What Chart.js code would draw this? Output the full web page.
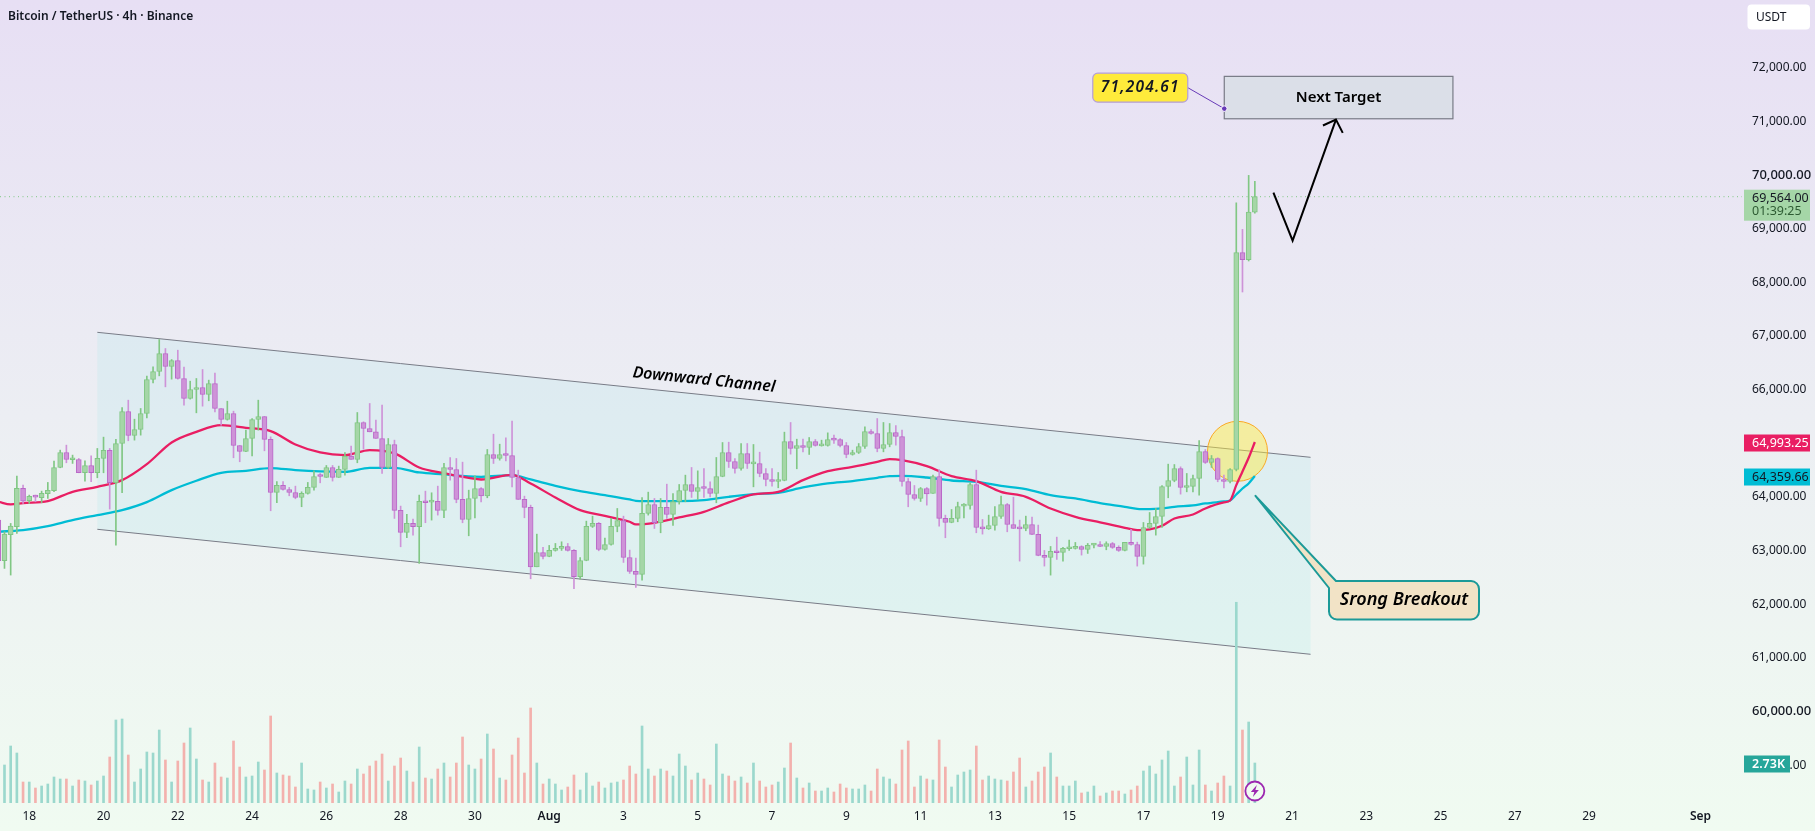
<!DOCTYPE html>
<html>
<head>
<meta charset="utf-8">
<title>Bitcoin / TetherUS</title>
<script src="https://cdn.jsdelivr.net/npm/chart.js@4"></script>
<style>
  html, body { margin: 0; padding: 0; overflow: hidden; }
  body { width: 1815px; height: 831px; background: linear-gradient(180deg, #e7dff4 0%, #eceef3 50%, #f0fbf1 100%); }
  canvas { display: block; }
</style>
</head>
<body>
<canvas id="btcChart" width="1815" height="831"></canvas>
<script>
// 4h candles, index 0 = first (cut off) bar on the left
const opens = [63538,62781,63265,63414,64128,63898,63985,63954,64029,64085,
  64519,64798,64662,64668,64420,64556,64420,64687,64836,64234,
  64966,65562,65115,65227,65525,66158,66307,66642,66400,66512,
  66177,65804,65972,66009,65879,66083,65618,65413,65525,64929,
  64817,65059,65413,65469,65041,64053,64184,64109,64053,63960,
  64035,64147,64364,64333,64519,64333,64482,64730,64668,65357,
  65245,65183,65059,64519,64947,63718,63309,63476,63414,63886,
  63873,63886,63718,64519,64481,63923,63550,63941,64127,63991,
  64761,64686,64761,64742,64332,63923,63774,62668,62935,62861,
  62973,63010,63047,62973,62482,62786,63420,63476,62991,63084,
  63420,63531,62842,62582,62526,63662,63829,63488,63774,63643,
  63885,64090,64202,64072,64146,64127,64034,64351,64798,64630,
  64500,64779,64587,64593,64407,64295,64258,64276,65003,64872,
  64928,64891,65003,64922,64928,65040,65040,64928,64761,64798,
  64910,65189,65152,64872,64947,65170,65096,64258,64016,63941,
  64127,64034,64351,63569,63494,63569,63798,63811,64202,63401,
  63376,63438,63606,63829,63457,63389,63382,63457,63271,62880,
  62842,62954,62935,63004,63010,63047,62991,63072,63084,63047,
  63103,63029,62973,63122,63084,62861,63401,63476,63606,64165,
  64276,64500,64146,64165,64314,64816,64612,64686,64295,64258,
  64481,68521,68390,69278];
const highs = [63600,63321,63476,64358,64190,64004,64004,64078,64240,64637,
  64842,64935,64749,64687,64643,64736,64873,65084,64873,65041,
  65637,65773,65419,65618,66220,66394,66903,66735,66530,66704,
  66388,66127,66177,66344,66146,66276,65618,65754,65568,64929,
  65214,65432,65773,65469,65090,64258,64258,64147,64171,64066,
  64240,64457,64407,64556,64556,64544,64798,64916,65543,65370,
  65711,65401,65680,65059,65028,63799,63644,63557,64004,64078,
  64047,64171,64594,64705,64686,64618,64096,64363,64146,64854,
  65139,64953,65071,65381,64469,63985,63817,63277,63029,63066,
  63103,63134,63103,62991,62842,63519,63612,63494,63202,63569,
  63755,63612,62979,62830,63960,64059,63941,63941,64208,64034,
  64202,64376,64519,64456,64500,64252,64705,64984,64990,64686,
  64965,64965,64947,64804,64500,64500,64425,65177,65357,65046,
  65046,65077,65040,65028,65164,65121,65059,64984,64841,64965,
  65276,65226,65431,65357,65338,65301,65214,64314,64183,64146,
  64146,64376,64481,63631,63736,63873,63848,64233,64469,63550,
  63631,63792,63985,63848,63966,63538,63612,63594,63445,62973,
  63047,63221,63029,63165,63122,63060,63103,63103,63140,63134,
  63122,63060,63122,63364,63128,63494,63680,63755,64183,64581,
  64574,64531,64407,64376,65021,64854,64742,64699,64376,64500,
  69452,68955,69961,69849];
const lows = [62762,62638,62514,63290,63849,63849,63880,63861,63942,64066,
  64513,64606,64594,64420,64265,64252,64327,64420,63743,63073,
  64047,65016,65028,65121,65444,66096,66226,66021,66164,66164,
  65680,65792,65537,65661,65761,65556,65307,65401,64699,64625,
  64811,64736,65214,64829,63712,63861,64097,63991,63935,63787,
  64022,64097,64233,64333,64265,64333,64376,64668,64606,64860,
  65183,65059,64407,64500,63569,63041,63209,63259,62731,63489,
  63538,63631,63582,64283,63861,63488,63246,63581,63879,63954,
  64593,64655,64643,64158,63923,63581,62445,62668,62817,62855,
  62960,62973,62960,62259,62439,62780,63401,62966,62979,63072,
  63320,62749,62544,62284,62420,63631,63382,63302,63569,63438,
  63836,63879,63960,63923,63960,63972,63861,64345,64519,64413,
  64469,64500,64158,64345,64177,64171,64140,64270,64767,64494,
  64810,64761,64916,64916,64916,64965,64903,64699,64748,64779,
  64872,65139,64810,64810,64903,64934,64171,63786,63910,63885,
  63817,64034,63426,63209,63488,63507,63581,63743,63302,63277,
  63364,63351,63569,63320,63382,62774,63339,63265,62873,62681,
  62513,62805,62774,62973,62998,62886,62917,63022,63041,62985,
  63010,62954,62966,63072,62681,62718,63382,63258,63401,63954,
  64252,64022,64065,64065,64003,64593,64519,64252,64140,64233,
  64456,67788,68366,69259];
const closes = [62781,63277,63426,64128,63892,63979,63967,64035,64091,64519,
  64798,64668,64674,64420,64556,64420,64687,64836,64234,64966,
  65562,65115,65227,65525,66158,66307,66642,66400,66512,66177,
  65804,65972,66009,65879,66083,65618,65413,65525,64929,64817,
  65059,65413,65469,65041,64053,64184,64109,64053,63960,64035,
  64147,64351,64351,64519,64333,64482,64730,64668,65357,65245,
  65183,65059,64519,64947,63718,63309,63476,63414,63886,63861,
  63886,63718,64519,64481,63923,63550,63941,64127,63991,64761,
  64686,64761,64742,64332,63923,63774,62668,62935,62861,62973,
  63010,63047,62973,62482,62786,63420,63476,62991,63084,63420,
  63531,62842,62582,62526,63662,63829,63488,63774,63643,63885,
  64090,64202,64072,64146,64127,64034,64351,64798,64630,64500,
  64779,64593,64599,64407,64295,64258,64276,65003,64872,64928,
  64891,65003,64928,64934,65040,65028,64928,64761,64798,64910,
  65189,65152,64872,64947,65170,65096,64258,64016,63941,64127,
  64028,64351,63569,63494,63569,63792,63817,64202,63401,63376,
  63438,63606,63829,63457,63382,63376,63457,63271,62880,62842,
  62954,62929,63010,63016,63047,62991,63066,63084,63047,63103,
  63029,62973,63122,63084,62861,63401,63476,63606,64165,64276,
  64500,64146,64165,64314,64816,64612,64686,64295,64258,64481,
  68521,68390,69278,69564];
const volumes = [1500,2594,3890,3413,1433,1433,1024,1160,1297,1775,
  1638,1638,1160,1570,1502,1229,1502,1843,3140,5665,
  5733,3276,1433,2321,3481,3413,4982,2935,1433,2867,
  4095,5119,3003,1570,1433,2730,1775,1706,4232,2457,
  1775,1843,2798,2252,5938,2048,1911,1843,1092,2730,
  956,887,1433,1024,1297,751,1502,1297,2321,1979,
  2525,2867,3344,1502,2525,3071,2184,1433,3822,1706,
  1638,2321,2730,1775,2730,4505,2594,2321,3003,4709,
  3686,1706,1570,3276,4436,2048,6484,2730,1297,1638,
  1297,887,1092,1911,887,2048,1160,1433,1024,1365,
  1433,1570,2525,1979,5255,2321,1843,2321,2184,1843,
  3344,2525,1570,2048,1638,1229,4027,1979,1843,1502,
  1775,1365,2730,1502,1092,1229,1433,2389,4095,1706,
  1024,1365,819,819,1024,751,1297,1024,956,956,
  1229,819,2321,1775,1638,1297,3617,4232,1092,1843,
  1638,1570,4300,2457,1092,1911,2116,2252,3890,1570,
  1843,1638,1570,1502,2116,3071,1092,1502,2116,2457,
  3413,1775,1160,1160,1502,683,751,1160,478,683,
  819,819,614,887,1160,2184,2525,1979,2935,3549,
  1160,1775,3140,1229,3617,1229,819,1365,1843,1160,
  13700,4982,5528,2730];

const maBars = [0,2,4,8,12,16,20,24,28,32,36,40,44,48,52,56,60,64,68,72,
  76,78,83,86,90,94,98,102,103,106,110,114,118,122,126,130,134,138,142,
  144,146,150,154,158,162,166,170,174,178,182,184,186,188,190,193,195,198,199,200,201,202,203];
const maFast = [63880,63830,63855,63892,64066,64159,64283,64581,64985,65183,65307,65258,65196,64947,64798,64749,64842,64780,64519,64413,
  64326,64295,64382,64220,63960,63724,63618,63507,63457,63488,63587,63693,63867,64016,64065,64283,64450,64531,64624,
  64674,64655,64543,64357,64264,64065,63972,63755,63600,63494,63395,63351,63364,63432,63569,63643,63755,63867,63904,64189,64444,64699,64993.25];
const maSlow = [63321,63335,63352,63426,63538,63631,63724,63873,64097,64271,64420,64457,64507,64469,64445,64438,64513,64513,64426,64389,
  64351,64345,64376,64295,64177,64078,64003,63923,63898,63892,63892,63910,63972,64022,64047,64146,64221,64264,64326,
  64357,64363,64332,64276,64252,64177,64115,64003,63941,63854,63786,63749,63742,63755,63786,63811,63848,63885,63904,64016,64127,64221,64359.66];

const dateBars = [5,17,29,41,53,65,77,89,101,113,125,137,149,161,173,185,197,209,221,233,245,257,275];
const dateLabels = ["18","20","22","24","26","28","30","Aug","3","5","7","9","11","13","15","17","19","21","23","25","27","29","Sep"];
const priceTicks = [59000,60000,61000,62000,63000,64000,65000,66000,67000,68000,69000,70000,71000,72000];

const lastPrice = 69564, lastCountdown = "01:39:25", lastVolumeText = "2.73K";

// drawings, anchored in [bar, price]
const channelTop = [[16, 67037], [212, 64708]];
const channelBottom = [[16, 63367], [212, 61038]];
const channelCaption = [114, 66148];
const targetBox = [[198.06, 71806], [235, 71016]];
const targetLabelAnchor = [198.06, 71204.61];
const vShape = [[206, 69640], [209.1, 68745], [216.1, 71000]];
const arrowBarbs = [[214, 70890], [217.2, 70753]];
const breakoutTip = [203.1, 63990];
const breakoutHighlight = [200.2, 64820];

const GREEN_BODY = "#a5d6a7", GREEN_EDGE = "#81c784";
const PURPLE_BODY = "#ce93d8", PURPLE_EDGE = "#ba68c8";
const UI_FONT = '"Noto Sans", sans-serif';
const TEXT = "#131722";

const isUp = i => closes[i] >= opens[i];

function moneyText(v) {
  return v.toLocaleString("en-US", { minimumFractionDigits: 2, maximumFractionDigits: 2 });
}

function roundRect(ctx, x, y, w, h, r) {
  ctx.beginPath();
  ctx.roundRect(x, y, w, h, r);
}

function strokeLine(ctx, pts, color, width) {
  ctx.beginPath();
  pts.forEach((p, k) => k ? ctx.lineTo(p[0], p[1]) : ctx.moveTo(p[0], p[1]));
  ctx.strokeStyle = color;
  ctx.lineWidth = width;
  ctx.stroke();
}

const drawingsPlugin = {
  id: "drawings",
  beforeDatasetsDraw(chart) {
    const { ctx, scales: { x, y } } = chart;
    const pt = a => [x.getPixelForValue(a[0]), y.getPixelForValue(a[1])];
    const t0 = pt(channelTop[0]), t1 = pt(channelTop[1]);
    const b0 = pt(channelBottom[0]), b1 = pt(channelBottom[1]);

    ctx.save();
    ctx.beginPath();
    ctx.moveTo(t0[0], t0[1]);
    ctx.lineTo(t1[0], t1[1]);
    ctx.lineTo(b1[0], b1[1]);
    ctx.lineTo(b0[0], b0[1]);
    ctx.closePath();
    ctx.fillStyle = "rgba(100, 225, 225, 0.1)";
    ctx.fill();
    strokeLine(ctx, [t0, t1], "#787b86", 1);
    strokeLine(ctx, [b0, b1], "#787b86", 1);

    // highlight circle
    const c = pt(breakoutHighlight);
    ctx.beginPath();
    ctx.arc(c[0], c[1], 30, 0, Math.PI * 2);
    ctx.fillStyle = "rgba(255, 235, 59, 0.45)";
    ctx.fill();
    ctx.strokeStyle = "#f9a825";
    ctx.lineWidth = 1;
    ctx.stroke();

    // last price line
    const ly = y.getPixelForValue(lastPrice);
    ctx.setLineDash([1, 3.5]);
    strokeLine(ctx, [[0, ly], [chart.chartArea.right, ly]], GREEN_EDGE, 1);
    ctx.restore();
  },
  afterDatasetsDraw(chart) {
    const { ctx, scales: { x, y } } = chart;
    const pt = a => [x.getPixelForValue(a[0]), y.getPixelForValue(a[1])];
    ctx.save();

    // channel caption
    const t0 = pt(channelTop[0]), t1 = pt(channelTop[1]);
    const cap = pt(channelCaption);
    ctx.save();
    ctx.translate(cap[0], cap[1]);
    ctx.rotate(Math.atan2(t1[1] - t0[1], t1[0] - t0[0]));
    ctx.font = 'italic 600 16px ' + UI_FONT;
    ctx.fillStyle = "#000";
    ctx.textAlign = "center";
    ctx.textBaseline = "middle";
    ctx.fillText("Downward Channel", 0, 0);
    ctx.restore();

    // target box
    const a = pt(targetBox[0]), b = pt(targetBox[1]);
    ctx.fillStyle = "#dbdfe8";
    ctx.fillRect(a[0], a[1], b[0] - a[0], b[1] - a[1]);
    ctx.strokeStyle = "#787b86";
    ctx.lineWidth = 1.2;
    ctx.strokeRect(a[0], a[1], b[0] - a[0], b[1] - a[1]);
    ctx.font = '600 15px ' + UI_FONT;
    ctx.fillStyle = "#000";
    ctx.textAlign = "center";
    ctx.textBaseline = "middle";
    ctx.fillText("Next Target", (a[0] + b[0]) / 2, (a[1] + b[1]) / 2);

    // price label with its leader
    const dot = pt(targetLabelAnchor);
    const lw = 95, lh = 29, lx = dot[0] - 131.5, ly = dot[1] - 35.5;
    strokeLine(ctx, [[lx + lw, ly + lh / 2], dot], "#673ab7", 1);
    ctx.beginPath();
    ctx.arc(dot[0], dot[1], 2.8, 0, Math.PI * 2);
    ctx.fillStyle = "#673ab7";
    ctx.fill();
    ctx.strokeStyle = "#fff";
    ctx.lineWidth = 1;
    ctx.stroke();
    roundRect(ctx, lx, ly, lw, lh, 5);
    ctx.fillStyle = "#ffeb3b";
    ctx.fill();
    ctx.strokeStyle = "#b39ddb";
    ctx.lineWidth = 1.2;
    ctx.stroke();
    ctx.font = 'italic 600 15.5px ' + UI_FONT;
    ctx.letterSpacing = "1.2px";
    ctx.fillStyle = "#131722";
    ctx.fillText("71,204.61", lx + lw / 2, ly + lh / 2);
    ctx.letterSpacing = "0px";

    // projected path
    ctx.lineJoin = "miter";
    strokeLine(ctx, vShape.map(pt), "#000", 2);
    strokeLine(ctx, [pt(arrowBarbs[0]), pt(vShape[2]), pt(arrowBarbs[1])], "#000", 2);

    // callout
    const tip = pt(breakoutTip);
    const bx = 1329, by = 581, bw = 150, bh = 38.5, r = 8;
    ctx.beginPath();
    ctx.moveTo(tip[0], tip[1]);
    ctx.lineTo(bx + 7, by);
    ctx.lineTo(bx + bw - r, by);
    ctx.arcTo(bx + bw, by, bx + bw, by + r, r);
    ctx.lineTo(bx + bw, by + bh - r);
    ctx.arcTo(bx + bw, by + bh, bx + bw - r, by + bh, r);
    ctx.lineTo(bx + r, by + bh);
    ctx.arcTo(bx, by + bh, bx, by + bh - r, r);
    ctx.lineTo(bx, by + 7);
    ctx.closePath();
    ctx.fillStyle = "#f2e3c6";
    ctx.fill();
    ctx.strokeStyle = "#1c9a98";
    ctx.lineWidth = 2;
    ctx.lineJoin = "round";
    ctx.stroke();
    ctx.font = 'italic 600 18px ' + UI_FONT;
    ctx.fillStyle = "#000";
    ctx.fillText("Srong Breakout", bx + bw / 2, by + bh / 2 - 0.5);

    // bolt badge on the last bar
    const ix = x.getPixelForValue(203), iy = 791;
    ctx.beginPath();
    ctx.arc(ix, iy, 9.5, 0, Math.PI * 2);
    ctx.fillStyle = "#f0faf1";
    ctx.fill();
    ctx.strokeStyle = "#9c27b0";
    ctx.lineWidth = 1.8;
    ctx.stroke();
    ctx.beginPath();
    ctx.moveTo(ix + 2, iy - 6);
    ctx.lineTo(ix - 4, iy + 1);
    ctx.lineTo(ix - 0.5, iy + 1);
    ctx.lineTo(ix - 2, iy + 6);
    ctx.lineTo(ix + 4, iy - 1);
    ctx.lineTo(ix + 0.5, iy - 1);
    ctx.closePath();
    ctx.fillStyle = "#9c27b0";
    ctx.fill();
    ctx.restore();
  },
  afterDraw(chart) {
    const { ctx, scales: { y, yVol } } = chart;
    const TAG_X = 1744, TAG_W = 66, TXT_X = 1752;
    ctx.save();
    ctx.textBaseline = "middle";
    ctx.textAlign = "left";

    ctx.font = '600 12px ' + UI_FONT;
    ctx.fillStyle = TEXT;
    ctx.fillText("Bitcoin / TetherUS · 4h · Binance", 8, 16.5);

    // currency button
    roundRect(ctx, 1747.5, 4.5, 62.5, 25, 4);
    ctx.fillStyle = "#fff";
    ctx.fill();
    ctx.font = '12px ' + UI_FONT;
    ctx.fillStyle = TEXT;
    ctx.fillText("USDT", 1756, 17.5);

    const tag = (value, fill, color, text, w, weight) => {
      const cy = value + 1;
      ctx.fillStyle = fill;
      ctx.fillRect(TAG_X, cy - 8.5, w, 17);
      ctx.fillStyle = color;
      ctx.font = weight + ' 12.5px ' + UI_FONT;
      ctx.fillText(text, TXT_X, cy);
    };
    tag(y.getPixelForValue(maFast[maFast.length - 1]), "#e91e63", "#fff", moneyText(maFast[maFast.length - 1]), TAG_W, "400");
    tag(y.getPixelForValue(maSlow[maSlow.length - 1]), "#00bcd4", "#131722", moneyText(maSlow[maSlow.length - 1]), TAG_W, "400");
    tag(yVol.getPixelForValue(volumes[volumes.length - 1]) , "#26a69a", "#fff", lastVolumeText, 46, "600");

    // last price tag, two rows
    const py = y.getPixelForValue(lastPrice);
    ctx.fillStyle = GREEN_BODY;
    ctx.fillRect(TAG_X, py - 7, TAG_W, 31);
    ctx.font = '12.5px ' + UI_FONT;
    ctx.fillStyle = "#131722";
    ctx.fillText(moneyText(lastPrice), TXT_X, py + 1.5);
    ctx.fillStyle = "#2e5c33";
    ctx.fillText(lastCountdown, TXT_X, py + 15);
    ctx.restore();
  }
};

new Chart(document.getElementById("btcChart"), {
  type: "bar",
  plugins: [drawingsPlugin],
  data: {
    datasets: [
      {
        label: "Body",
        order: 1,
        grouped: false,
        xAxisID: "x",
        yAxisID: "y",
        data: opens.map((o, i) => ({ x: i, y: [o, closes[i]] })),
        backgroundColor: opens.map((o, i) => isUp(i) ? GREEN_BODY : PURPLE_BODY),
        borderColor: opens.map((o, i) => isUp(i) ? GREEN_EDGE : PURPLE_EDGE),
        borderWidth: 1,
        borderSkipped: false,
        barThickness: 5,
        minBarLength: 2
      },
      {
        label: "Wick",
        order: 2,
        grouped: false,
        xAxisID: "x",
        yAxisID: "y",
        data: lows.map((l, i) => ({ x: i, y: [l, highs[i]] })),
        backgroundColor: opens.map((o, i) => isUp(i) ? GREEN_EDGE : PURPLE_BODY),
        barThickness: 1
      },
      {
        type: "line",
        label: "MA fast",
        order: 3,
        xAxisID: "x",
        yAxisID: "y",
        data: maBars.map((b, k) => ({ x: b, y: maFast[k] })),
        borderColor: "#e91e63",
        borderWidth: 2.3,
        pointRadius: 0,
        cubicInterpolationMode: "monotone"
      },
      {
        type: "line",
        label: "MA slow",
        order: 4,
        xAxisID: "x",
        yAxisID: "y",
        data: maBars.map((b, k) => ({ x: b, y: maSlow[k] })),
        borderColor: "#00bcd4",
        borderWidth: 2.3,
        pointRadius: 0,
        cubicInterpolationMode: "monotone"
      },
      {
        label: "Volume",
        order: 5,
        grouped: false,
        xAxisID: "x",
        yAxisID: "yVol",
        data: volumes.map((v, i) => ({ x: i, y: v })),
        backgroundColor: opens.map((o, i) => isUp(i) ? "#9bd8cd" : "#f3b1ad"),
        barThickness: 2
      }
    ]
  },
  options: {
    responsive: false,
    devicePixelRatio: 1,
    animation: false,
    layout: { padding: 0 },
    plugins: { legend: { display: false }, tooltip: { enabled: false } },
    scales: {
      x: {
        type: "linear",
        offset: false,
        min: 0.275,
        max: 281.7,
        grid: { display: false, drawTicks: false },
        border: { display: false },
        afterBuildTicks: scale => { scale.ticks = dateBars.map(v => ({ value: v })); },
        afterFit: scale => { scale.height = 28; scale.paddingLeft = 0; scale.paddingRight = 0; },
        ticks: {
          autoSkip: false,
          maxRotation: 0,
          padding: 6,
          color: TEXT,
          font: ctx => ({
            family: UI_FONT,
            size: 12,
            weight: dateLabels[dateBars.indexOf(ctx.tick && ctx.tick.value)] === "Aug" ||
                    dateLabels[dateBars.indexOf(ctx.tick && ctx.tick.value)] === "Sep" ? "600" : "400"
          }),
          callback: v => dateLabels[dateBars.indexOf(v)]
        }
      },
      y: {
        type: "linear",
        position: "right",
        min: 58267,
        max: 73229,
        grid: { display: false, drawTicks: false },
        border: { display: false },
        afterBuildTicks: scale => { scale.ticks = priceTicks.map(v => ({ value: v })); },
        afterFit: scale => { scale.width = 73; scale.paddingTop = 0; scale.paddingBottom = 0; },
        ticks: {
          autoSkip: false,
          padding: 10,
          labelOffset: 1.5,
          color: TEXT,
          font: ctx => ({
            family: UI_FONT,
            size: ctx.tick && ctx.tick.value % 10000 === 0 ? 13 : 12,
            weight: ctx.tick && ctx.tick.value % 10000 === 0 ? "500" : "400"
          }),
          callback: v => moneyText(v)
        }
      },
      yVol: {
        type: "linear",
        display: false,
        min: 0,
        max: 54805,
        grid: { display: false }
      }
    }
  }
});
</script>
</body>
</html>
